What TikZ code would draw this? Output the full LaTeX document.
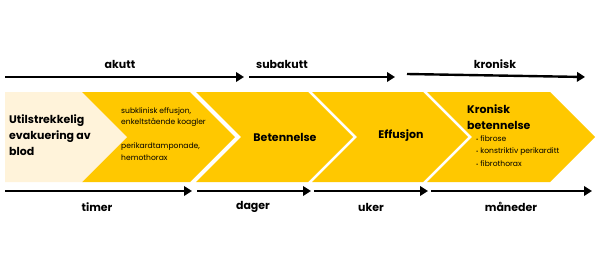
\documentclass[tikz,border=0pt]{standalone}
\usepackage{fontspec}
\setmainfont{Poppins}
\usetikzlibrary{arrows.meta}
\definecolor{yel}{RGB}{255,200,0}
\definecolor{cream}{RGB}{255,243,218}
\newcommand{\bul}{{\scalebox{0.7}{\textbullet}}\ }
\tikzset{
  tl/.style={line width=2.4pt,-{Triangle[length=8pt,width=9.5pt]}},
  lbl/.style={font=\fontsize{11}{13}\selectfont\bfseries,inner sep=0pt},
  big/.style={font=\fontsize{11}{16}\selectfont\bfseries,inner sep=0pt,align=left},
  small/.style={font=\fontsize{7.6}{11.5}\selectfont,inner sep=0pt,align=left},
  smallb/.style={font=\fontsize{7.6}{12.5}\selectfont,inner sep=0pt,align=left},
}
\begin{document}
\begin{tikzpicture}[x=1pt,y=-1pt]
\useasboundingbox[fill=white] (0,0) rectangle (600,260);
% band
\fill[yel] (82,92) -- (190,92) -- (235,137) -- (190,182) -- (82,182) -- cycle;
\fill[cream] (5,92) -- (82,92) -- (127,137) -- (82,182) -- (5,182) -- cycle;
\fill[yel] (196,92) -- (308,92) -- (353,137) -- (308,182) -- (196,182) -- (241,137) -- cycle;
\fill[yel] (312,92) -- (423,92) -- (468,137) -- (423,182) -- (312,182) -- (357,137) -- cycle;
\fill[yel] (427,92) -- (550,92) -- (595,137) -- (550,182) -- (427,182) -- (472,137) -- cycle;
% top arrows
\coordinate (a1s) at (5,77); \coordinate (a1e) at (244,77);
\coordinate (a2s) at (249,77); \coordinate (a2e) at (395,77);
\coordinate (a3s) at (407,74); \coordinate (a3e) at (585,77);
\draw[tl] (a1s) -- (a1e);
\draw[tl] (a2s) -- (a2e);
\draw[tl] (a3s) -- (a3e);
\node[lbl] (akutt) at (120,64) {akutt};
\node[lbl] (subakutt) at (282,64) {subakutt};
\node[lbl] (kronisk) at (495,64) {kronisk};
% bottom arrows
\coordinate (b1s) at (5,191); \coordinate (b1e) at (192,191);
\coordinate (b2s) at (197,191); \coordinate (b2e) at (311,191);
\coordinate (b3s) at (314,191); \coordinate (b3e) at (428,191);
\coordinate (b4s) at (431,191); \coordinate (b4e) at (592,191);
\draw[tl] (b1s) -- (b1e);
\draw[tl] (b2s) -- (b2e);
\draw[tl] (b3s) -- (b3e);
\draw[tl] (b4s) -- (b4e);
\node[lbl] (timer) at (97,207) {timer};
\node[lbl] (dager) at (253,207) {dager};
\node[lbl] (uker) at (371,207) {uker};
\node[lbl] (maneder) at (511,207) {måneder};
% texts
\node[big,anchor=west] (utl) at (9,135) {Utilstrekkelig\\evakuering av\\blod};
\node[small,anchor=north west] (sub) at (121,107) {subklinisk effusjon,\\enkeltstående koagler};
\node[small,anchor=north west] (peri) at (121,143) {perikardtamponade,\\hemothorax};
\node[big] (bet) at (285,137) {Betennelse};
\node[big] (eff) at (401,136) {Effusjon};
\node[big,anchor=north west] (kron) at (467,104) {Kronisk\\betennelse};
\node[smallb,anchor=north west] (bull) at (476,135) {\bul fibrose\\\bul konstriktiv perikarditt\\\bul fibrothorax};
\end{tikzpicture}
\end{document}
